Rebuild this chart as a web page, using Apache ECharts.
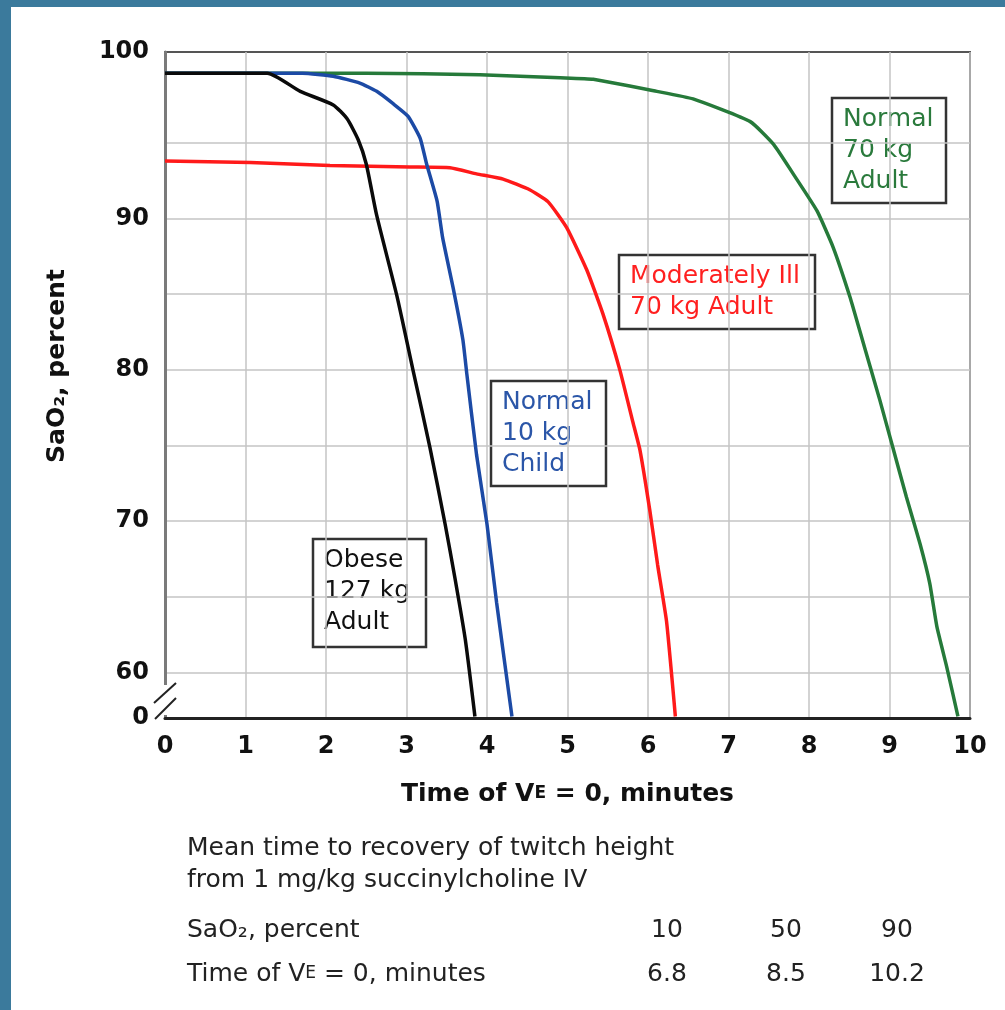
<!DOCTYPE html>
<html>
<head>
<meta charset="utf-8">
<script src="https://cdn.jsdelivr.net/npm/echarts@6/dist/echarts.min.js"></script>
<style>
  html, body { margin: 0; padding: 0; background: #fff; }
  #chart { width: 1005px; height: 1010px; }
</style>
</head>
<body>
<div id="chart"></div>
<script>
// curves: time (min) and SaO2 (%)
var obeseTime = [0, 0.5, 1.0, 1.27, 1.68, 2.09, 2.26, 2.40, 2.50, 2.63, 2.88, 3.08, 3.29, 3.48, 3.60, 3.73, 3.85];
var obeseSat  = [99.6, 99.6, 99.6, 99.6, 98.4, 97.5, 96.6, 95.2, 93.6, 90.2, 84.9, 80.0, 74.9, 69.8, 66.3, 62.2, 57.1];

var childTime = [0, 1.3, 1.71, 2.09, 2.42, 2.63, 2.83, 3.02, 3.17, 3.25, 3.38, 3.45, 3.58, 3.70, 3.75, 3.87, 4.0, 4.12, 4.31];
var childSat  = [99.6, 99.6, 99.6, 99.4, 98.95, 98.4, 97.6, 96.75, 95.3, 93.6, 91.15, 88.7, 85.4, 82.0, 79.7, 74.4, 69.8, 64.6, 57.1];

var illTime = [0, 1.06, 2.05, 3.04, 3.54, 3.87, 4.2, 4.53, 4.76, 4.99, 5.24, 5.44, 5.65, 5.81, 5.90, 6.02, 6.12, 6.23, 6.34];
var illSat  = [93.8, 93.7, 93.5, 93.4, 93.35, 92.95, 92.6, 91.9, 91.1, 89.4, 86.6, 83.7, 80.0, 76.6, 74.7, 70.8, 67.1, 63.4, 57.1];

var adultTime = [0, 2.5, 3.91, 4.91, 5.32, 6.11, 6.56, 7.27, 7.56, 7.81, 8.10, 8.30, 8.51, 8.63, 8.76, 8.88, 9.04, 9.21, 9.38, 9.50, 9.59, 9.71, 9.85];
var adultSat  = [99.6, 99.6, 99.5, 99.3, 99.2, 98.4, 97.9, 96.4, 94.9, 92.9, 90.5, 88.1, 84.8, 82.6, 80.2, 78.0, 74.9, 71.6, 68.5, 65.9, 63.0, 60.4, 57.1];

// axis ticks
var xTicks = [0, 1, 2, 3, 4, 5, 6, 7, 8, 9, 10];
var yGrid = [60, 65, 70, 75, 80, 85, 90, 95];
var yLabels = [57, 60, 70, 80, 90, 101];
var yLabelText = { 57: '0', 101: '100' };

// table under the chart
var tableSat = ['10', '50', '90'];
var tableTime = ['6.8', '8.5', '10.2'];

function pairs(xs, ys) {
  var out = [];
  for (var i = 0; i < xs.length; i++) out.push([xs[i], ys[i]]);
  return out;
}

var FONT = 'DejaVu Sans';

function noteBox(left, top, w, h, lines, color) {
  return {
    type: 'group',
    z: 50,
    children: [
      { type: 'rect', shape: { x: left, y: top, width: w, height: h },
        style: { fill: '#fff', stroke: '#333', lineWidth: 2.5 } },
      { type: 'text', x: left + 11, y: top + 6,
        style: { text: lines.join('\n'), fill: color, font: '25px ' + FONT,
                 lineHeight: 31, verticalAlign: 'top' } }
    ]
  };
}

var myChart = echarts.init(document.getElementById('chart'));

var colX = [667, 786, 897];
var tableTexts = [];
for (var i = 0; i < tableSat.length; i++) {
  tableTexts.push({ type: 'text', x: colX[i], y: 930,
    style: { text: tableSat[i], fill: '#222', font: '25px ' + FONT, align: 'center', verticalAlign: 'middle' } });
  tableTexts.push({ type: 'text', x: colX[i], y: 974,
    style: { text: tableTime[i], fill: '#222', font: '25px ' + FONT, align: 'center', verticalAlign: 'middle' } });
}

var option = {
  backgroundColor: '#fff',
  animation: false,
  grid: {
    left: 165, right: 35, top: 52, bottom: 292,
    show: true, borderColor: '#555', borderWidth: 2
  },
  xAxis: {
    type: 'value',
    min: 0, max: 10, interval: 1,
    axisLine: { show: true, onZero: false, lineStyle: { color: '#222', width: 3 } },
    axisTick: { show: false },
    axisLabel: { margin: 17, fontSize: 24, fontWeight: 'bold', color: '#111', fontFamily: FONT },
    splitLine: { show: true, lineStyle: { color: '#c4c4c4', width: 1.5 } },
    name: '{b|Time of V}{s|E}{b| = 0, minutes}',
    nameLocation: 'middle',
    nameGap: 62,
    nameTextStyle: {
      rich: {
        b: { fontSize: 25, fontWeight: 'bold', color: '#111', fontFamily: FONT, lineHeight: 28 },
        s: { fontSize: 17, fontWeight: 'bold', color: '#111', fontFamily: FONT, lineHeight: 28 }
      }
    }
  },
  yAxis: {
    type: 'value',
    min: 57, max: 101,
    axisLine: { show: true, onZero: false, lineStyle: { color: '#7a7a7a', width: 3 } },
    axisTick: { show: false, customValues: yGrid },
    axisLabel: {
      customValues: yLabels,
      margin: 16, fontSize: 24, fontWeight: 'bold', color: '#111', fontFamily: FONT,
      formatter: function (v) { return yLabelText[v] || String(v); }
    },
    splitLine: { show: true, lineStyle: { color: '#c4c4c4', width: 1.5 } }
  },
  series: [
    { name: 'Obese 127 kg Adult', type: 'line', data: pairs(obeseTime, obeseSat),
      showSymbol: false, smooth: 0.2, lineStyle: { color: '#0a0a0a', width: 3.5 }, z: 5 },
    { name: 'Normal 10 kg Child', type: 'line', data: pairs(childTime, childSat),
      showSymbol: false, smooth: 0.15, lineStyle: { color: '#1c4aa5', width: 3.5 }, z: 4 },
    { name: 'Moderately Ill 70 kg Adult', type: 'line', data: pairs(illTime, illSat),
      showSymbol: false, smooth: 0.15, lineStyle: { color: '#ff1a1a', width: 3.5 }, z: 3 },
    { name: 'Normal 70 kg Adult', type: 'line', data: pairs(adultTime, adultSat),
      showSymbol: false, smooth: 0.15, lineStyle: { color: '#267a3a', width: 3.5 }, z: 2 }
  ],
  graphic: [
    // blue frame of the page
    { type: 'rect', shape: { x: 0, y: 0, width: 11, height: 1010 }, style: { fill: '#3b7a9c' } },
    { type: 'rect', shape: { x: 0, y: 0, width: 1005, height: 7 }, style: { fill: '#3b7a9c' } },
    // axis break
    { type: 'rect', z: 100, shape: { x: 160, y: 685, width: 9, height: 30 }, style: { fill: '#fff' } },
    { type: 'line', z: 101, shape: { x1: 154, y1: 703, x2: 176, y2: 683 }, style: { stroke: '#222', lineWidth: 2 } },
    { type: 'line', z: 101, shape: { x1: 155, y1: 719, x2: 176, y2: 698 }, style: { stroke: '#222', lineWidth: 2 } },
    // y title
    { type: 'text', x: 57, y: 366, rotation: Math.PI / 2,
      style: { text: 'SaO\u2082, percent', fill: '#111', font: 'bold 25px ' + FONT, align: 'center', verticalAlign: 'middle' } },
    // curve notes
    noteBox(313, 539, 113, 108, ['Obese', '127 kg', 'Adult'], '#111'),
    noteBox(491, 381, 115, 105, ['Normal', '10 kg', 'Child'], '#2b56a8'),
    noteBox(619, 255, 196, 74, ['Moderately Ill', '70 kg Adult'], '#ff2020'),
    noteBox(832, 98, 114, 105, ['Normal', '70 kg', 'Adult'], '#2a7a3c'),
    // table
    { type: 'text', x: 187, y: 848,
      style: { text: 'Mean time to recovery of twitch height', fill: '#222', font: '25px ' + FONT, verticalAlign: 'middle' } },
    { type: 'text', x: 187, y: 880,
      style: { text: 'from 1 mg/kg succinylcholine IV', fill: '#222', font: '25px ' + FONT, verticalAlign: 'middle' } },
    { type: 'text', x: 187, y: 930,
      style: { text: 'SaO\u2082, percent', fill: '#222', font: '25px ' + FONT, verticalAlign: 'middle' } },
    { type: 'text', x: 187, y: 974,
      style: { text: '{a|Time of V}{s|E}{a| = 0, minutes}', verticalAlign: 'middle',
        rich: {
          a: { fill: '#222', fontSize: 25, fontFamily: FONT, lineHeight: 28 },
          s: { fill: '#222', fontSize: 17, fontFamily: FONT, lineHeight: 28 }
        } } }
  ].concat(tableTexts)
};

myChart.setOption(option);
</script>
</body>
</html>
